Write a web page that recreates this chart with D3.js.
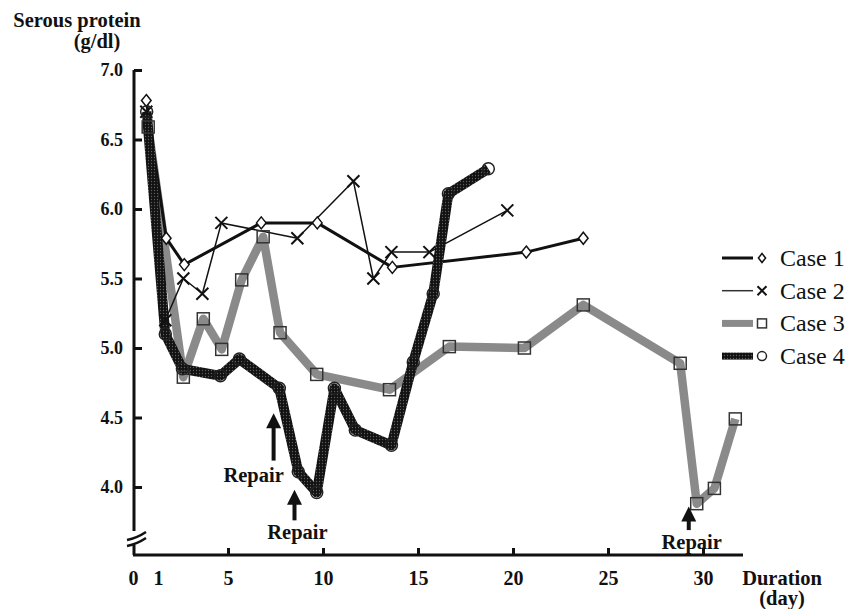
<!DOCTYPE html>
<html>
<head>
<meta charset="utf-8">
<script src="https://cdn.jsdelivr.net/npm/d3@7"></script>
<style>
  body { margin: 0; background: #fff; }
  text { font-family: "Liberation Serif", "Times New Roman", serif; fill: #111; }
  .bold { font-weight: bold; }
</style>
</head>
<body>
<div id="chart"></div>
<script>
// chart data (days after surgery, serous protein g/dl)
let case1Days = [0.7, 1.75, 2.7, 6.75, 9.7, 13.65, 20.7, 23.7];
let case1Vals = [6.78, 5.79, 5.6, 5.9, 5.9, 5.58, 5.69, 5.79];

let case2Days = [0.7, 1.7, 2.65, 3.65, 4.65, 8.65, 11.6, 12.65, 13.6, 15.6, 19.7];
let case2Vals = [6.7, 5.2, 5.5, 5.39, 5.9, 5.79, 6.2, 5.5, 5.69, 5.69, 5.99];

let case3Days = [0.8, 2.65, 3.7, 4.67, 5.72, 6.85, 7.74, 9.67, 13.5, 16.65, 20.6, 23.7, 28.8, 29.67, 30.6, 31.7];
let case3Vals = [6.59, 4.79, 5.21, 4.99, 5.49, 5.8, 5.11, 4.81, 4.7, 5.01, 5.0, 5.31, 4.89, 3.88, 3.99, 4.49];

let case4Days = [0.72, 1.7, 2.6, 4.6, 5.6, 7.7, 8.7, 9.67, 10.6, 11.7, 13.6, 14.75, 15.8, 16.6, 18.7];
let case4Vals = [6.7, 5.1, 4.85, 4.8, 4.92, 4.71, 4.11, 3.96, 4.71, 4.41, 4.3, 4.9, 5.39, 6.11, 6.29];

let caseNames = ["Case 1", "Case 2", "Case 3", "Case 4"];

// tick labels
let xTicks = [0, 1, 5, 10, 15, 20, 25, 30];
let yTicks = [4.0, 4.5, 5.0, 5.5, 6.0, 6.5, 7.0];

// repair annotations: day, arrow tip value, arrow tail value
let repairDays = [7.4, 8.5, 29.25];
let repairTips = [4.53, 3.98, 3.86];
let repairTails = [4.19, 3.76, 3.69];

// set svg width and height
let svgWidth = 850;
let svgHeight = 609;

let svg = d3.select("#chart")
  .append("svg")
  .attr("width", svgWidth)
  .attr("height", svgHeight);

// patterned stroke for case 4
let defs = svg.append("defs");
let pat = defs.append("pattern")
  .attr("id", "dots")
  .attr("patternUnits", "userSpaceOnUse")
  .attr("width", 3)
  .attr("height", 3);
pat.append("rect").attr("width", 3).attr("height", 3).attr("fill", "#121212");
pat.append("circle").attr("cx", 1.5).attr("cy", 1.5).attr("r", 0.65).attr("fill", "#5e5e5e");

// scales
let x = d3.scaleLinear().domain([0, 30]).range([133, 703]);
let y = d3.scaleLinear().domain([4, 7]).range([487, 70]);
let axisY = 555;
let axisXEnd = 743;

// axes
let xAxis = svg.append("g")
  .attr("class", "bold")
  .attr("transform", `translate(0, ${axisY})`)
  .call(d3.axisBottom(x).tickValues(xTicks).tickSizeInner(-7).tickSizeOuter(0).tickPadding(16).tickFormat(d3.format("d")));
xAxis.select(".domain").remove();
xAxis.selectAll(".tick line").attr("stroke", "#111").attr("stroke-width", 3)
  .filter(d => d < 2).remove();
xAxis.selectAll(".tick text").attr("font-size", 20).attr("font-family", "Liberation Serif").attr("fill", "#111")
  .attr("dx", d => d === 1 ? 6 : 0);

let yAxis = svg.append("g")
  .attr("class", "bold")
  .attr("transform", `translate(${x(0) + 1}, 0)`)
  .call(d3.axisLeft(y).tickValues(yTicks).tickSizeInner(-8).tickSizeOuter(0).tickPadding(11).tickFormat(d3.format(".1f")));
yAxis.select(".domain").remove();
yAxis.selectAll(".tick line").attr("stroke", "#111").attr("stroke-width", 3);
yAxis.selectAll(".tick text").attr("font-size", 18).attr("font-family", "Liberation Serif").attr("fill", "#111");

// axis lines with break
let axisG = svg.append("g").attr("stroke", "#111").attr("stroke-width", 3).attr("fill", "none");
axisG.append("line").attr("x1", x(0)).attr("x2", axisXEnd).attr("y1", axisY).attr("y2", axisY);
axisG.append("line").attr("x1", x(0) + 1).attr("x2", x(0) + 1).attr("y1", y(7)).attr("y2", 531);
axisG.append("line").attr("x1", x(0) + 1).attr("x2", x(0) + 1).attr("y1", 545).attr("y2", axisY);
axisG.append("path").attr("d", `M${x(0) - 6},540 Q${x(0) + 4},538 ${x(0) + 13},532`).attr("stroke-width", 2.5);
axisG.append("path").attr("d", `M${x(0) - 6},546 Q${x(0) + 4},544 ${x(0) + 13},538`).attr("stroke-width", 2.5);

// axis titles
svg.append("text").attr("class", "bold").attr("x", 77).attr("y", 27)
  .attr("text-anchor", "middle").attr("font-size", 20.5).text("Serous protein");
svg.append("text").attr("class", "bold").attr("x", 97).attr("y", 48)
  .attr("text-anchor", "middle").attr("font-size", 20.5).text("(g/dl)");
svg.append("text").attr("class", "bold").attr("x", 782).attr("y", 585)
  .attr("text-anchor", "middle").attr("font-size", 20.5).text("Duration");
svg.append("text").attr("class", "bold").attr("x", 782).attr("y", 605)
  .attr("text-anchor", "middle").attr("font-size", 20.5).text("(day)");

// series
let series = [
  { days: case3Days, vals: case3Vals, stroke: "#8a8a8a", width: 8.5, marker: "square" },
  { days: case1Days, vals: case1Vals, stroke: "#111", width: 3, marker: "diamond" },
  { days: case2Days, vals: case2Vals, stroke: "#111", width: 1.5, marker: "cross" },
  { days: case4Days, vals: case4Vals, stroke: "url(#dots)", width: 10, marker: "circle" }
];

let line = d3.line().x(d => x(d[0])).y(d => y(d[1]));

series.forEach(function(s) {
  svg.append("path")
    .datum(d3.zip(s.days, s.vals))
    .attr("d", line)
    .attr("fill", "none")
    .attr("stroke", s.stroke)
    .attr("stroke-width", s.width)
    .attr("stroke-linejoin", "round");
});

function drawMarker(g, type, cx, cy, size) {
  if (type === "diamond") {
    g.append("path").attr("d", `M${cx},${cy - size}L${cx + size * 0.8},${cy}L${cx},${cy + size}L${cx - size * 0.8},${cy}Z`)
      .attr("fill", "#fff").attr("stroke", "#111").attr("stroke-width", 1.5);
  } else if (type === "cross") {
    g.append("path").attr("d", `M${cx - size},${cy - size}L${cx + size},${cy + size}M${cx - size},${cy + size}L${cx + size},${cy - size}`)
      .attr("stroke", "#111").attr("stroke-width", 2);
  } else if (type === "square") {
    g.append("rect").attr("x", cx - size).attr("y", cy - size).attr("width", size * 2).attr("height", size * 2)
      .attr("fill", "none").attr("stroke", "#333").attr("stroke-width", 1.5);
  } else {
    g.append("circle").attr("cx", cx).attr("cy", cy).attr("r", size)
      .attr("fill", "none").attr("stroke", "#222").attr("stroke-width", 1.5);
  }
}

let markerG = svg.append("g");
series.forEach(function(s) {
  s.days.forEach(function(d, i) {
    drawMarker(markerG, s.marker, x(d), y(s.vals[i]), 6);
  });
});

// repair arrows
let repairG = svg.append("g");
repairDays.forEach(function(d, i) {
  let ax = x(d), tip = y(repairTips[i]), tail = y(repairTails[i]);
  repairG.append("line").attr("x1", ax).attr("x2", ax).attr("y1", tip + 12).attr("y2", tail)
    .attr("stroke", "#111").attr("stroke-width", 4);
  repairG.append("path").attr("d", `M${ax},${tip}L${ax + 7.5},${tip + 15}L${ax - 7.5},${tip + 15}Z`).attr("fill", "#111");
  let lx = i === 0 ? ax - 20 : ax + 3;
  let ly = i === 0 ? tail + 21 : tail + 19;
  repairG.append("text").attr("class", "bold").attr("x", lx).attr("y", ly)
    .attr("text-anchor", "middle").attr("font-size", 20.5).text("Repair");
});

// legend
let legend = svg.append("g");
let legendStyles = [
  { stroke: "#111", width: 3, marker: "diamond" },
  { stroke: "#333", width: 1.5, marker: "cross" },
  { stroke: "#8a8a8a", width: 7, marker: "square" },
  { stroke: "url(#dots)", width: 7, marker: "circle" }
];
caseNames.forEach(function(name, i) {
  let ly = 258 + i * 32.7;
  let st = legendStyles[i];
  legend.append("line").attr("x1", 722).attr("x2", 753).attr("y1", ly).attr("y2", ly)
    .attr("stroke", st.stroke).attr("stroke-width", st.width);
  drawMarker(legend, st.marker, 762, ly, 4.5);
  legend.append("text").attr("x", 780).attr("y", ly + 8).attr("font-size", 24).text(name);
});
</script>
</body>
</html>
